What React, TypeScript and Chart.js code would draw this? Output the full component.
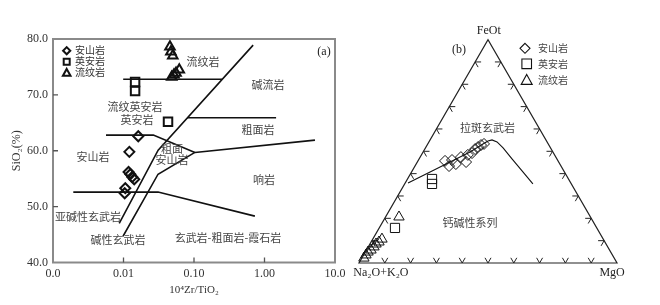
import React, { useEffect, useRef } from 'react';
import { Chart, registerables } from 'chart.js';

Chart.register(...registerables);

// ================= (a) Zr/TiO2 – SiO2 diagram =================
const xTickValues = [0.001, 0.01, 0.1, 1, 10];
const xTickLabels = ['0.0', '0.01', '0.10', '1.00', '10.0'];
const yTickValues = [40, 50, 60, 70, 80];

// samples
const andesiteZr = [0.0162, 0.0121, 0.0118, 0.0125, 0.0133, 0.0142, 0.0106, 0.0104];
const andesiteSi = [62.6, 59.8, 56.2, 55.8, 55.3, 54.9, 53.3, 52.4];
const daciteZr = [0.0146, 0.0146, 0.0428];
const daciteSi = [72.3, 70.7, 65.2];
const rhyoliteZr = [0.0456, 0.047, 0.05, 0.0483, 0.052, 0.0556, 0.0618];
const rhyoliteSi = [78.6, 77.7, 77.0, 73.2, 73.6, 73.9, 74.5];

// field boundaries
const bMainZr = [0.0087, 0.031, 0.69];
const bMainSi = [47.0, 60.1, 78.9];
const bRhyZr = [0.0099, 0.25];
const bRhySi = [72.8, 72.8];
const bTrachyteZr = [0.0796, 1.46];
const bTrachyteSi = [65.9, 65.9];
const bAndesiteZr = [0.00565, 0.0265, 0.103];
const bAndesiteSi = [62.8, 62.8, 59.7];
const bPhonoliteZr = [0.103, 5.2];
const bPhonoliteSi = [59.7, 61.9];
const bAlkaliZr = [0.00985, 0.0309, 0.103];
const bAlkaliSi = [44.7, 55.8, 59.7];
const bBasaltZr = [0.00194, 0.0309, 0.73];
const bBasaltSi = [52.6, 52.6, 48.3];

// field names
const fieldText = ['流纹岩', '碱流岩', '流纹英安岩', '英安岩', '粗面岩', '安山岩', '粗面', '安山岩', '响岩', '亚碱性玄武岩', '碱性玄武岩', '玄武岩-粗面岩-霞石岩'];
const fieldZr = [0.134, 1.12, 0.0146, 0.0155, 0.81, 0.00369, 0.0488, 0.0488, 0.98, 0.00313, 0.00835, 0.303];
const fieldSi = [75.9, 71.8, 67.8, 65.6, 63.7, 58.9, 60.4, 58.3, 54.8, 48.2, 44.0, 44.5];

const legendNames = ['安山岩', '英安岩', '流纹岩'];

// ================= (b) AFM ternary =================
const andFe = [45.7, 43.4, 46.1, 44.3, 47.4, 45.2, 48.4, 49.2, 51.0, 51.9, 52.8, 53.3];
const andMg = [10.5, 13.2, 13.0, 15.4, 15.8, 18.9, 18.0, 19.2, 19.5, 20.2, 20.9, 21.8];
const dacFe = [37.6, 35.4, 15.7];
const dacMg = [9.5, 10.6, 6.1];
const rhyFe = [20.6, 10.7, 9.4, 8.5, 7.2, 5.8, 4.9, 3.6, 2.2];
const rhyMg = [5.2, 3.55, 3.05, 2.35, 2.2, 1.75, 1.05, 0.9, 0.8];
const curveFe = [35.8, 40.7, 45.2, 49.7, 53.3, 54.6, 55.1, 54.2, 51.5, 46.6, 41.2, 35.4];
const curveMg = [1.1, 7.2, 12.7, 18.2, 21.4, 22.7, 24.0, 26.4, 30.1, 36.0, 42.6, 49.7];

const SERIF = '"Liberation Serif", "DejaVu Serif", serif';
const CJK = '"Noto Sans CJK SC", "Noto Sans", sans-serif';
const H = 0.8660254;

const pts = (xs: number[], ys: number[]) => xs.map((x, i) => ({ x, y: ys[i] }));
const tern = (fe: number[], mg: number[]) => fe.map((f, i) => ({ x: mg[i] + f / 2, y: f * H }));

function shape(ctx: CanvasRenderingContext2D, kind: string, x: number, y: number, r: number) {
  ctx.beginPath();
  if (kind === 'diamond') {
    ctx.moveTo(x, y - r); ctx.lineTo(x + r, y); ctx.lineTo(x, y + r); ctx.lineTo(x - r, y); ctx.closePath();
  } else if (kind === 'square') {
    ctx.rect(x - r, y - r, 2 * r, 2 * r);
  } else {
    ctx.moveTo(x, y - r); ctx.lineTo(x + r, y + 0.8 * r); ctx.lineTo(x - r, y + 0.8 * r); ctx.closePath();
  }
  ctx.stroke();
}

const lineDs = (data: any[], w = 1.6) => ({
  data, showLine: true, borderColor: '#111', borderWidth: w, pointRadius: 0, tension: 0, fill: false, order: 2, clip: false,
});

const markDs = (data: any[], style: string, r: number, w: number) => ({
  data, pointStyle: style, pointRadius: r, pointBorderWidth: w, borderWidth: w,
  pointBorderColor: '#111', borderColor: '#111', pointBackgroundColor: 'rgba(0,0,0,0)', backgroundColor: 'rgba(0,0,0,0)',
  showLine: false, order: 0, clip: false,
});

const plugA = {
  id: 'decorA',
  beforeDatasetsDraw(chart: any) {
    const { ctx, chartArea: ca, scales } = chart;
    ctx.save();
    ctx.strokeStyle = '#8a8a8a';
    ctx.lineWidth = 2;
    ctx.strokeRect(ca.left, ca.top, ca.right - ca.left, ca.bottom - ca.top);
    ctx.strokeStyle = '#555';
    ctx.lineWidth = 1.3;
    ctx.beginPath();
    xTickValues.slice(1, -1).forEach((v) => {
      const p = scales.x.getPixelForValue(v);
      ctx.moveTo(p, ca.bottom); ctx.lineTo(p, ca.bottom - 5);
    });
    yTickValues.slice(1, -1).forEach((v) => {
      const p = scales.y.getPixelForValue(v);
      ctx.moveTo(ca.left, p); ctx.lineTo(ca.left + 5, p);
    });
    ctx.stroke();
    ctx.restore();
  },
  afterDatasetsDraw(chart: any) {
    const { ctx, chartArea: ca, scales } = chart;
    ctx.save();
    ctx.textAlign = 'center';
    ctx.textBaseline = 'middle';
    ctx.fillStyle = '#444';
    ctx.font = `11px ${CJK}`;
    fieldText.forEach((t, i) => {
      ctx.fillText(t, scales.x.getPixelForValue(fieldZr[i]), scales.y.getPixelForValue(fieldSi[i]));
    });
    ctx.fillStyle = '#222';
    ctx.font = `12px ${SERIF}`;
    ctx.fillText('(a)', scales.x.getPixelForValue(6.98), scales.y.getPixelForValue(77.7));
    // legend
    const kinds = ['diamond', 'square', 'triangle'];
    const rs = [3.6, 3.0, 3.8];
    ctx.strokeStyle = '#111';
    ctx.lineWidth = 2;
    ctx.textAlign = 'left';
    ctx.font = `10px ${CJK}`;
    kinds.forEach((k, i) => {
      const y = ca.top + 11.7 + i * 11;
      shape(ctx, k, ca.left + 13.7, y, rs[i]);
      ctx.fillStyle = '#333';
      ctx.fillText(legendNames[i], ca.left + 22, y);
    });
    ctx.restore();
  },
};

const plugB = {
  id: 'decorB',
  beforeDatasetsDraw(chart: any) {
    const { ctx, scales } = chart;
    const P = (sx: number, sy: number) => [scales.x.getPixelForValue(sx), scales.y.getPixelForValue(sy)];
    const A = P(0, 0), M = P(100, 0), F = P(50, 100 * H);
    ctx.save();
    ctx.strokeStyle = '#222';
    ctx.lineWidth = 1.2;
    ctx.beginPath();
    ctx.moveTo(A[0], A[1]); ctx.lineTo(M[0], M[1]); ctx.lineTo(F[0], F[1]); ctx.closePath();
    ctx.stroke();
    const unit = (p: number[], q: number[]) => {
      const dx = q[0] - p[0], dy = q[1] - p[1], l = Math.hypot(dx, dy);
      return [dx / l, dy / l];
    };
    const L = 6;
    const sides = [
      { s: A, e: M, a1: unit(A, F), a2: unit(M, F) },
      { s: A, e: F, a1: unit(A, M), a2: unit(F, M) },
      { s: M, e: F, a1: unit(M, A), a2: unit(F, A) },
    ];
    ctx.lineWidth = 1;
    ctx.beginPath();
    sides.forEach(({ s, e, a1, a2 }) => {
      for (let k = 1; k <= 9; k++) {
        const px = s[0] + (e[0] - s[0]) * k / 10, py = s[1] + (e[1] - s[1]) * k / 10;
        ctx.moveTo(px + a1[0] * L, py + a1[1] * L);
        ctx.lineTo(px, py);
        ctx.lineTo(px + a2[0] * L, py + a2[1] * L);
      }
    });
    ctx.stroke();
    ctx.restore();
  },
  afterDatasetsDraw(chart: any) {
    const { ctx, chartArea: ca, scales } = chart;
    const P = (sx: number, sy: number) => [scales.x.getPixelForValue(sx), scales.y.getPixelForValue(sy)];
    ctx.save();
    ctx.textAlign = 'center';
    ctx.textBaseline = 'middle';
    ctx.fillStyle = '#222';
    ctx.font = `12px ${SERIF}`;
    let p = P(50.3, 90.0); ctx.fillText('FeOt', p[0], p[1]);
    p = P(38.8, 82.6); ctx.fillText('(b)', p[0], p[1]);
    p = P(8.5, -3.9); ctx.fillText('Na₂O+K₂O', p[0], p[1]);
    p = P(98.1, -3.9); ctx.fillText('MgO', p[0], p[1]);
    ctx.fillStyle = '#444';
    ctx.font = `11px ${CJK}`;
    p = P(49.8, 52.3); ctx.fillText('拉斑玄武岩', p[0], p[1]);
    p = P(43.0, 15.5); ctx.fillText('钙碱性系列', p[0], p[1]);
    // legend
    const kinds = ['diamond', 'square', 'triangle'];
    const rs = [5, 4.8, 5.5];
    const dy = [8.7, 24.2, 40.4];
    ctx.strokeStyle = '#111';
    ctx.lineWidth = 1.1;
    ctx.textAlign = 'left';
    ctx.font = `10px ${CJK}`;
    kinds.forEach((k, i) => {
      const y = ca.top + dy[i];
      shape(ctx, k, ca.left + (i === 0 ? 166 : 167.7), y, rs[i]);
      ctx.fillStyle = '#444';
      ctx.fillText(legendNames[i], ca.left + 179, y);
    });
    ctx.restore();
  },
};

export default function App() {
  const refA = useRef<HTMLCanvasElement>(null);
  const refB = useRef<HTMLCanvasElement>(null);

  useEffect(() => {
    const chartA = new Chart(refA.current as HTMLCanvasElement, {
      type: 'scatter',
      data: {
        datasets: [
          markDs(pts(andesiteZr, andesiteSi), 'rectRot', 5, 2),
          markDs(pts(daciteZr, daciteSi), 'rect', 6, 2),
          markDs(pts(rhyoliteZr, rhyoliteSi), 'triangle', 5.5, 2),
          lineDs(pts(bMainZr, bMainSi)),
          lineDs(pts(bRhyZr, bRhySi)),
          lineDs(pts(bTrachyteZr, bTrachyteSi)),
          lineDs(pts(bAndesiteZr, bAndesiteSi)),
          lineDs(pts(bPhonoliteZr, bPhonoliteSi)),
          lineDs(pts(bAlkaliZr, bAlkaliSi)),
          lineDs(pts(bBasaltZr, bBasaltSi)),
        ] as any,
      },
      options: {
        responsive: false,
        animation: false,
        devicePixelRatio: 1,
        events: [],
        layout: { padding: { left: 0, right: 17, top: 39, bottom: 0 } },
        plugins: { legend: { display: false }, tooltip: { enabled: false } },
        scales: {
          x: {
            type: 'logarithmic',
            min: 0.001,
            max: 10,
            position: 'bottom',
            afterBuildTicks: (s: any) => { s.ticks = xTickValues.map((v) => ({ value: v })); },
            afterFit: (s: any) => { s.height = 42.5; s.paddingLeft = 0; s.paddingRight = 0; },
            grid: { display: false, drawTicks: false },
            border: { display: false },
            ticks: {
              autoSkip: false,
              maxRotation: 0,
              padding: 4,
              color: '#333',
              font: { family: SERIF, size: 12 },
              callback: (_v: any, i: number) => xTickLabels[i],
            },
            title: { display: true, text: '10⁴Zr/TiO₂', color: '#333', font: { family: SERIF, size: 11 }, padding: { top: 0, bottom: 8 } },
          },
          y: {
            type: 'linear',
            min: 40,
            max: 80,
            position: 'left',
            afterBuildTicks: (s: any) => { s.ticks = yTickValues.map((v) => ({ value: v })); },
            afterFit: (s: any) => { s.width = 53; s.paddingTop = 0; s.paddingBottom = 0; },
            grid: { display: false, drawTicks: false },
            border: { display: false },
            ticks: {
              padding: 5,
              color: '#333',
              font: { family: SERIF, size: 12 },
              callback: (v: any) => Number(v).toFixed(1),
            },
            title: { display: true, text: 'SiO₂(%)', color: '#333', font: { family: SERIF, size: 12 }, padding: { top: 10, bottom: 0 } },
          },
        },
      } as any,
      plugins: [plugA],
    });

    const chartB = new Chart(refB.current as HTMLCanvasElement, {
      type: 'scatter',
      data: {
        datasets: [
          markDs(tern(andFe, andMg), 'rectRot', 5.5, 1),
          markDs(tern(dacFe, dacMg), 'rect', 6.5, 1),
          markDs(tern(rhyFe, rhyMg), 'triangle', 6, 1),
          lineDs(tern(curveFe, curveMg), 1.1),
        ] as any,
      },
      options: {
        responsive: false,
        animation: false,
        devicePixelRatio: 1,
        events: [],
        layout: { padding: { left: 19, right: 43, top: 39.6, bottom: 42 } },
        plugins: { legend: { display: false }, tooltip: { enabled: false } },
        scales: {
          x: { type: 'linear', min: 0, max: 100, display: false },
          y: { type: 'linear', min: 0, max: 100 * H, display: false },
        },
      } as any,
      plugins: [plugB],
    });

    return () => {
      chartA.destroy();
      chartB.destroy();
    };
  }, []);

  return (
    <div style={{ position: 'fixed', left: 0, top: 0, width: 660, height: 305, background: '#fff' }}>
      <canvas ref={refA} width={352} height={305} style={{ position: 'absolute', left: 0, top: 0, width: 352, height: 305 }} />
      <canvas ref={refB} width={320} height={305} style={{ position: 'absolute', left: 340, top: 0, width: 320, height: 305 }} />
    </div>
  );
}
